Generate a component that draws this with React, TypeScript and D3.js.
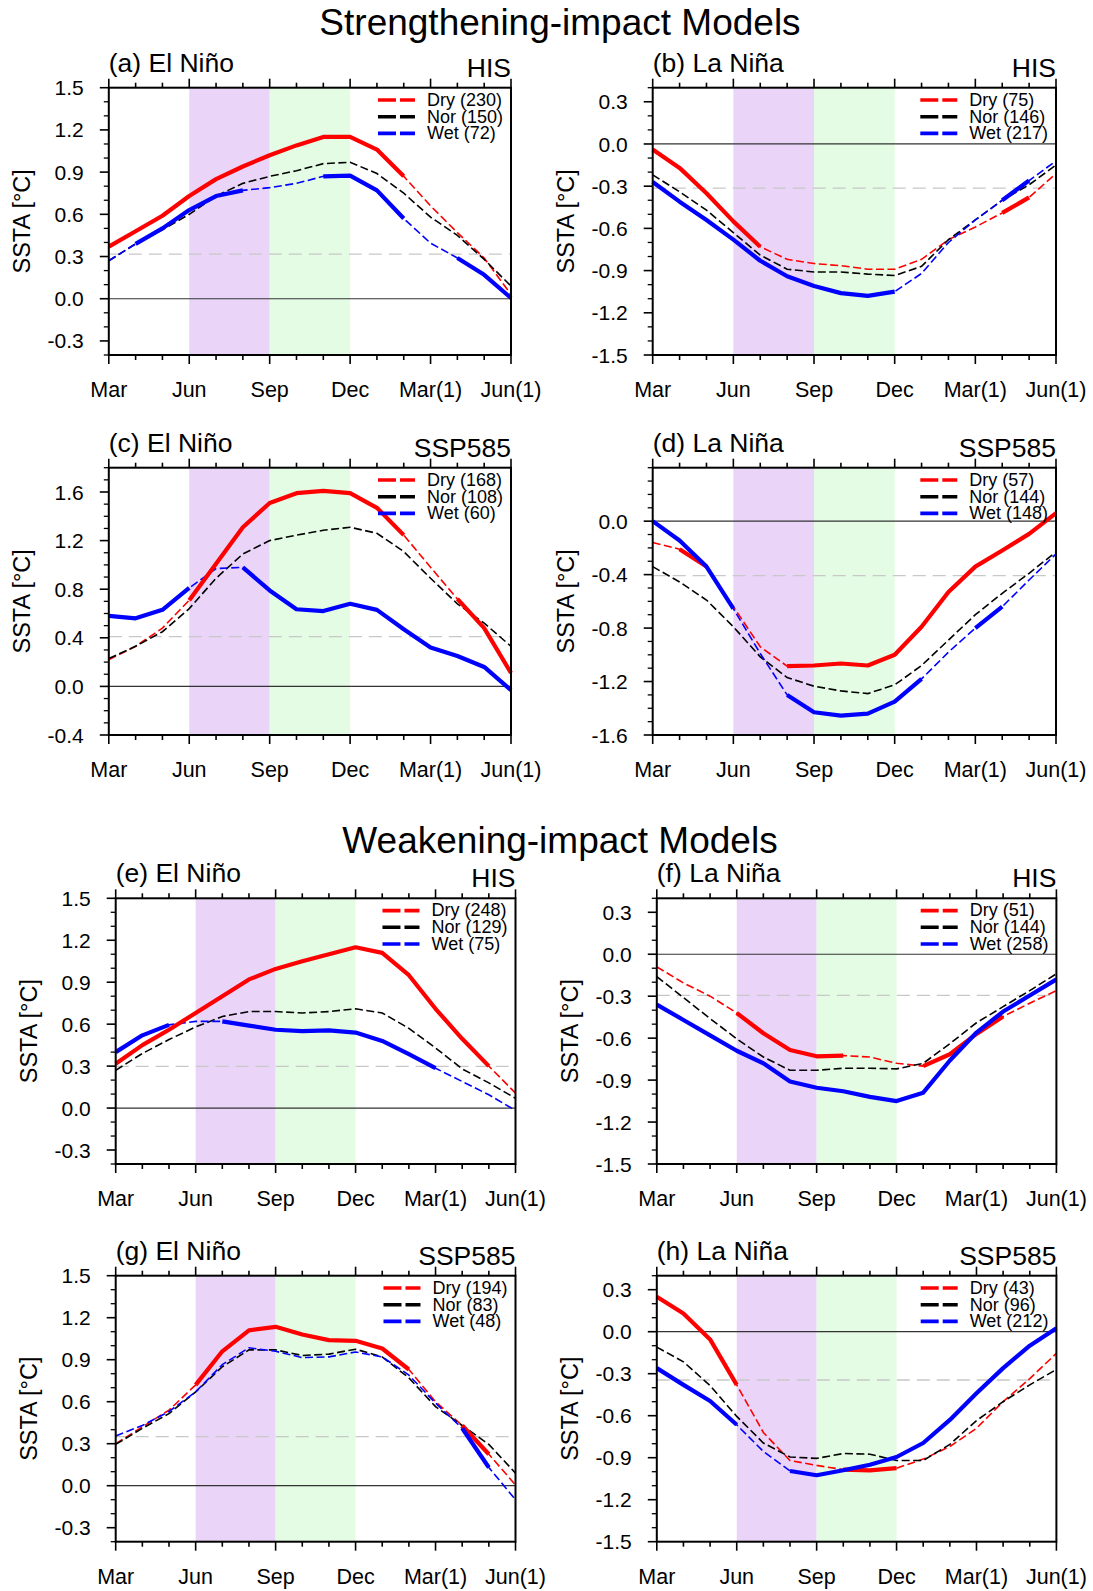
import * as d3 from "d3";
import React from "react";

const W = 1093;
const H = 1591;
const FONT = "'Liberation Sans', Arial, Helvetica, sans-serif";

// 16 months, Mar of year 0 to Jun of year (1)
const months = ["Mar", "Apr", "May", "Jun", "Jul", "Aug", "Sep", "Oct", "Nov", "Dec", "Jan(1)", "Feb(1)", "Mar(1)", "Apr(1)", "May(1)", "Jun(1)"];
const majorMonths = ["Mar", "Jun", "Sep", "Dec", "Mar(1)", "Jun(1)"];
const groups = ["Dry", "Nor", "Wet"];
const groupColors = ["#ff0000", "#000000", "#0000ff"];

// (a) strengthening, El Nino, HIS
const aDry = [0.37, 0.48, 0.59, 0.73, 0.85, 0.94, 1.02, 1.09, 1.15, 1.15, 1.06, 0.87, 0.66, 0.47, 0.29, 0.03];
const aNor = [0.27, 0.39, 0.49, 0.6, 0.73, 0.82, 0.87, 0.91, 0.96, 0.97, 0.89, 0.75, 0.58, 0.45, 0.28, 0.09];
const aWet = [0.27, 0.39, 0.5, 0.63, 0.73, 0.77, 0.79, 0.82, 0.87, 0.875, 0.77, 0.57, 0.395, 0.29, 0.17, 0.005];
const aDrySig = [1, 1, 1, 1, 1, 1, 1, 1, 1, 1, 1, 1, 0, 0, 0, 0];
const aWetSig = [0, 1, 1, 1, 1, 1, 0, 0, 1, 1, 1, 1, 0, 1, 1, 1];
const aCounts = [230, 150, 72];

// (b) strengthening, La Nina, HIS
const bDry = [-0.04, -0.17, -0.35, -0.55, -0.73, -0.82, -0.85, -0.865, -0.89, -0.89, -0.82, -0.68, -0.59, -0.49, -0.38, -0.21];
const bNor = [-0.22, -0.34, -0.47, -0.63, -0.79, -0.89, -0.91, -0.91, -0.925, -0.935, -0.87, -0.68, -0.54, -0.4, -0.29, -0.15];
const bWet = [-0.27, -0.41, -0.54, -0.68, -0.83, -0.94, -1.01, -1.06, -1.08, -1.05, -0.92, -0.7, -0.54, -0.4, -0.26, -0.12];
const bDrySig = [1, 1, 1, 1, 1, 0, 0, 0, 0, 0, 0, 0, 0, 1, 1, 0];
const bWetSig = [1, 1, 1, 1, 1, 1, 1, 1, 1, 1, 0, 0, 0, 1, 1, 0];
const bCounts = [75, 146, 217];

// (c) strengthening, El Nino, SSP585
const cDry = [0.22, 0.33, 0.48, 0.71, 1.01, 1.31, 1.51, 1.59, 1.61, 1.59, 1.47, 1.245, 0.98, 0.72, 0.48, 0.11];
const cNor = [0.23, 0.33, 0.45, 0.64, 0.89, 1.09, 1.2, 1.245, 1.285, 1.31, 1.26, 1.11, 0.89, 0.68, 0.52, 0.33];
const cWet = [0.58, 0.56, 0.63, 0.81, 0.97, 0.98, 0.79, 0.635, 0.62, 0.68, 0.63, 0.47, 0.32, 0.25, 0.16, -0.03];
const cDrySig = [0, 0, 0, 1, 1, 1, 1, 1, 1, 1, 1, 1, 0, 1, 1, 1];
const cWetSig = [1, 1, 1, 1, 0, 1, 1, 1, 1, 1, 1, 1, 1, 1, 1, 1];
const cCounts = [168, 108, 60];

// (d) strengthening, La Nina, SSP585
const dDry = [-0.16, -0.21, -0.34, -0.64, -0.94, -1.085, -1.08, -1.065, -1.08, -1.0, -0.79, -0.53, -0.34, -0.22, -0.095, 0.06];
const dNor = [-0.34, -0.455, -0.59, -0.79, -1.015, -1.17, -1.235, -1.27, -1.29, -1.225, -1.08, -0.89, -0.7, -0.54, -0.39, -0.23];
const dWet = [0.0, -0.145, -0.34, -0.655, -0.99, -1.3, -1.43, -1.455, -1.44, -1.35, -1.18, -0.98, -0.8, -0.64, -0.44, -0.245];
const dDrySig = [0, 1, 1, 0, 0, 1, 1, 1, 1, 1, 1, 1, 1, 1, 1, 1];
const dWetSig = [1, 1, 1, 1, 0, 1, 1, 1, 1, 1, 1, 0, 1, 1, 0, 0];
const dCounts = [57, 144, 148];

// (e) weakening, El Nino, HIS
const eDry = [0.317, 0.45, 0.56, 0.68, 0.8, 0.92, 0.995, 1.05, 1.1, 1.15, 1.11, 0.95, 0.71, 0.495, 0.3, 0.107];
const eNor = [0.27, 0.39, 0.49, 0.58, 0.655, 0.69, 0.69, 0.68, 0.69, 0.71, 0.68, 0.57, 0.43, 0.28, 0.18, 0.07];
const eWet = [0.4, 0.52, 0.595, 0.62, 0.62, 0.59, 0.56, 0.55, 0.555, 0.54, 0.48, 0.385, 0.285, 0.19, 0.095, -0.017];
const eDrySig = [1, 1, 1, 1, 1, 1, 1, 1, 1, 1, 1, 1, 1, 1, 1, 0];
const eWetSig = [1, 1, 1, 0, 1, 1, 1, 1, 1, 1, 1, 1, 1, 0, 0, 0];
const eCounts = [248, 129, 75];

// (f) weakening, La Nina, HIS
const fDry = [-0.09, -0.205, -0.3, -0.42, -0.565, -0.685, -0.73, -0.725, -0.735, -0.78, -0.8, -0.715, -0.57, -0.445, -0.35, -0.26];
const fNor = [-0.16, -0.31, -0.46, -0.605, -0.735, -0.83, -0.83, -0.815, -0.815, -0.82, -0.78, -0.64, -0.49, -0.375, -0.26, -0.14];
const fWet = [-0.36, -0.47, -0.58, -0.69, -0.78, -0.91, -0.955, -0.98, -1.02, -1.05, -0.99, -0.76, -0.56, -0.41, -0.295, -0.18];
const fDrySig = [0, 0, 0, 1, 1, 1, 1, 1, 0, 0, 1, 1, 1, 1, 0, 0];
const fWetSig = [1, 1, 1, 1, 1, 1, 1, 1, 1, 1, 1, 1, 1, 1, 1, 1];
const fCounts = [51, 144, 258];

// (g) weakening, El Nino, SSP585
const gDry = [0.3, 0.42, 0.54, 0.72, 0.96, 1.11, 1.135, 1.08, 1.04, 1.035, 0.98, 0.83, 0.6, 0.43, 0.225, 0.005];
const gNor = [0.295, 0.41, 0.515, 0.67, 0.85, 0.97, 0.97, 0.93, 0.94, 0.975, 0.92, 0.77, 0.565, 0.43, 0.295, 0.09];
const gWet = [0.355, 0.43, 0.53, 0.67, 0.865, 0.985, 0.96, 0.915, 0.92, 0.955, 0.92, 0.79, 0.59, 0.41, 0.13, -0.1];
const gDrySig = [0, 0, 0, 1, 1, 1, 1, 1, 1, 1, 1, 1, 0, 1, 1, 0];
const gWetSig = [0, 0, 0, 0, 0, 0, 0, 0, 0, 0, 0, 0, 0, 1, 1, 0];
const gCounts = [194, 83, 48];

// (h) weakening, La Nina, SSP585
const hDry = [0.25, 0.13, -0.055, -0.38, -0.72, -0.92, -0.955, -0.985, -0.99, -0.975, -0.91, -0.82, -0.69, -0.5, -0.335, -0.155];
const hNor = [-0.11, -0.215, -0.385, -0.605, -0.795, -0.895, -0.905, -0.87, -0.875, -0.92, -0.92, -0.805, -0.635, -0.5, -0.38, -0.27];
const hWet = [-0.26, -0.38, -0.495, -0.665, -0.855, -0.995, -1.025, -0.99, -0.95, -0.895, -0.795, -0.63, -0.44, -0.26, -0.1, 0.025];
const hDrySig = [1, 1, 1, 1, 0, 0, 0, 1, 1, 1, 0, 0, 0, 0, 0, 0];
const hWetSig = [1, 1, 1, 1, 0, 1, 1, 1, 1, 1, 1, 1, 1, 1, 1, 1];
const hCounts = [43, 96, 212];

// y ticks and grey threshold lines
const ninoTicks = [1.5, 1.2, 0.9, 0.6, 0.3, 0.0, -0.3];
const ninaTicks = [0.3, 0.0, -0.3, -0.6, -0.9, -1.2, -1.5];
const cTicks = [1.6, 1.2, 0.8, 0.4, 0.0, -0.4];
const dTicks = [0.0, -0.4, -0.8, -1.2, -1.6];
const thresholds = [0.317, -0.314, 0.41, -0.408, 0.298, -0.294, 0.35, -0.345];

const panels = [
  { id: "a", title: "(a) El Niño", run: "HIS", dom: [-0.4, 1.5], ticks: ninoTicks, dry: aDry, nor: aNor, wet: aWet, drySig: aDrySig, wetSig: aWetSig, counts: aCounts, box: [108.8, 511, 87.7, 355] },
  { id: "b", title: "(b) La Niña", run: "HIS", dom: [-1.5, 0.4], ticks: ninaTicks, dry: bDry, nor: bNor, wet: bWet, drySig: bDrySig, wetSig: bWetSig, counts: bCounts, box: [652.7, 1056, 87.7, 355] },
  { id: "c", title: "(c) El Niño", run: "SSP585", dom: [-0.4, 1.8], ticks: cTicks, dry: cDry, nor: cNor, wet: cWet, drySig: cDrySig, wetSig: cWetSig, counts: cCounts, box: [108.8, 511, 467.7, 735] },
  { id: "d", title: "(d) La Niña", run: "SSP585", dom: [-1.6, 0.4], ticks: dTicks, dry: dDry, nor: dNor, wet: dWet, drySig: dDrySig, wetSig: dWetSig, counts: dCounts, box: [652.7, 1056, 467.7, 735] },
  { id: "e", title: "(e) El Niño", run: "HIS", dom: [-0.4, 1.5], ticks: ninoTicks, dry: eDry, nor: eNor, wet: eWet, drySig: eDrySig, wetSig: eWetSig, counts: eCounts, box: [115.7, 515.5, 898.3, 1164] },
  { id: "f", title: "(f) La Niña", run: "HIS", dom: [-1.5, 0.4], ticks: ninaTicks, dry: fDry, nor: fNor, wet: fWet, drySig: fDrySig, wetSig: fWetSig, counts: fCounts, box: [656.8, 1056.4, 898.3, 1164] },
  { id: "g", title: "(g) El Niño", run: "SSP585", dom: [-0.4, 1.5], ticks: ninoTicks, dry: gDry, nor: gNor, wet: gWet, drySig: gDrySig, wetSig: gWetSig, counts: gCounts, box: [115.7, 515.5, 1275.7, 1541.7] },
  { id: "h", title: "(h) La Niña", run: "SSP585", dom: [-1.5, 0.4], ticks: ninaTicks, dry: hDry, nor: hNor, wet: hWet, drySig: hDrySig, wetSig: hWetSig, counts: hCounts, box: [656.8, 1056.4, 1275.7, 1541.7] },
];

const LEGEND_FONT = 18;
let measureCtx: CanvasRenderingContext2D | null = null;
function textWidth(s: string) {
  if (!measureCtx) {
    measureCtx = document.createElement("canvas").getContext("2d");
  }
  if (!measureCtx) return s.length * LEGEND_FONT * 0.5;
  measureCtx.font = `${LEGEND_FONT}px ${FONT}`;
  return measureCtx.measureText(s).width;
}

function Panel({ p, threshold }: { p: any; threshold: number }) {
  const [left, right, top, bottom] = p.box;
  const x = d3.scalePoint<string>().domain(months).range([left, right]);
  const y = d3.scaleLinear().domain(p.dom).range([bottom, top]);
  const xi = (_: number, i: number) => x(months[i]) as number;

  const dashedLine = d3.line<number>().x(xi).y((d) => y(d));
  const sigLine = (sig: number[]) =>
    d3.line<number>().defined((_, i) => sig[i] === 1).x(xi).y((d) => y(d));

  const series = [p.dry, p.nor, p.wet];
  const sigs = [p.drySig, null, p.wetSig];

  // minor y ticks every 0.1
  const lo = Math.ceil(p.dom[0] * 10 - 1e-6);
  const hi = Math.floor(p.dom[1] * 10 + 1e-6);
  const minorY = d3.range(lo, hi + 1).map((v) => v / 10)
    .filter((v) => !p.ticks.some((t: number) => Math.abs(t - v) < 1e-6));

  const labels = groups.map((g, k) => `${g} (${p.counts[k]})`);
  const maxW = Math.max(...labels.map(textWidth));
  const textX = right - 8 - maxW;
  const lineX1 = textX - 12;
  const lineX0 = lineX1 - 37;

  const fmt = (t: number) => (Math.abs(t) < 1e-9 ? 0 : t).toFixed(1);

  return (
    <g>
      {/* season shading */}
      <rect x={x("Jun")} y={top} width={(x("Sep") as number) - (x("Jun") as number)} height={bottom - top} fill="#ead5f9" />
      <rect x={x("Sep")} y={top} width={(x("Dec") as number) - (x("Sep") as number)} height={bottom - top} fill="#e3fce3" />

      {/* threshold + zero line */}
      <line x1={left} x2={right} y1={y(threshold)} y2={y(threshold)} stroke="#c8c8c8" strokeWidth={1.3} strokeDasharray="13 7" />
      <line x1={left} x2={right} y1={y(0)} y2={y(0)} stroke="#333" strokeWidth={1.2} />

      {/* dashed full series */}
      {series.map((s: number[], k: number) => (
        <path key={"d" + k} d={dashedLine(s) as string} fill="none" stroke={groupColors[k]} strokeWidth={1.6} strokeDasharray="8 3.5" />
      ))}
      {/* significant parts, thick solid */}
      {series.map((s: number[], k: number) =>
        sigs[k] ? (
          <path key={"s" + k} d={sigLine(sigs[k] as number[])(s) as string} fill="none" stroke={groupColors[k]} strokeWidth={4.2} strokeLinejoin="round" />
        ) : null
      )}

      {/* frame */}
      <rect x={left} y={top} width={right - left} height={bottom - top} fill="none" stroke="#000" strokeWidth={2} />

      {/* x ticks bottom and top */}
      {months.map((m) => {
        const major = majorMonths.includes(m);
        const len = major ? 9 : 5;
        const xx = x(m) as number;
        return (
          <g key={m}>
            <line x1={xx} x2={xx} y1={bottom} y2={bottom + len} stroke="#000" strokeWidth={1.6} />
            <line x1={xx} x2={xx} y1={top} y2={top - len} stroke="#000" strokeWidth={1.6} />
          </g>
        );
      })}
      {majorMonths.map((m) => (
        <text key={"xl" + m} x={x(m)} y={bottom + 42} textAnchor="middle" fontSize={21.5} fontFamily={FONT}>
          {m}
        </text>
      ))}

      {/* y ticks */}
      {p.ticks.map((t: number) => (
        <g key={"yt" + t}>
          <line x1={left - 9} x2={left} y1={y(t)} y2={y(t)} stroke="#000" strokeWidth={1.6} />
          <text x={left - 25} y={y(t)} dy="0.36em" textAnchor="end" fontSize={21} fontFamily={FONT}>
            {fmt(t)}
          </text>
        </g>
      ))}
      {minorY.map((t: number) => (
        <line key={"ym" + t} x1={left - 5} x2={left} y1={y(t)} y2={y(t)} stroke="#000" strokeWidth={1.3} />
      ))}

      {/* y label */}
      <text
        transform={`translate(${left - 87},${(top + bottom) / 2}) rotate(-90)`}
        textAnchor="middle"
        dy="0.36em"
        fontSize={23.5}
        fontFamily={FONT}
      >
        SSTA [°C]
      </text>

      {/* titles */}
      <text x={left} y={top - 16} fontSize={26.5} fontFamily={FONT}>
        {p.title}
      </text>
      <text x={right} y={top - 11} textAnchor="end" fontSize={26.5} fontFamily={FONT}>
        {p.run}
      </text>

      {/* legend */}
      {labels.map((lab, k) => {
        const ly = top + 12.3 + k * 16.7;
        return (
          <g key={"lg" + k}>
            <line x1={lineX0} x2={lineX1} y1={ly} y2={ly} stroke={groupColors[k]} strokeWidth={3.6} strokeDasharray="18 4" />
            <text x={textX} y={ly + 5.8} fontSize={LEGEND_FONT} fontFamily={FONT}>
              {lab}
            </text>
          </g>
        );
      })}
    </g>
  );
}

export default function App() {
  return (
    <svg
      width={W}
      height={H}
      viewBox={`0 0 ${W} ${H}`}
      style={{ position: "absolute", left: 0, top: 0, background: "#fff", display: "block" }}
    >
      <rect x={0} y={0} width={W} height={H} fill="#fff" />
      <text x={560} y={35} textAnchor="middle" fontSize={37} fontFamily={FONT}>
        Strengthening-impact Models
      </text>
      <text x={560} y={852.5} textAnchor="middle" fontSize={37} fontFamily={FONT}>
        Weakening-impact Models
      </text>
      {panels.map((p, i) => (
        <Panel key={p.id} p={p} threshold={thresholds[i]} />
      ))}
    </svg>
  );
}
